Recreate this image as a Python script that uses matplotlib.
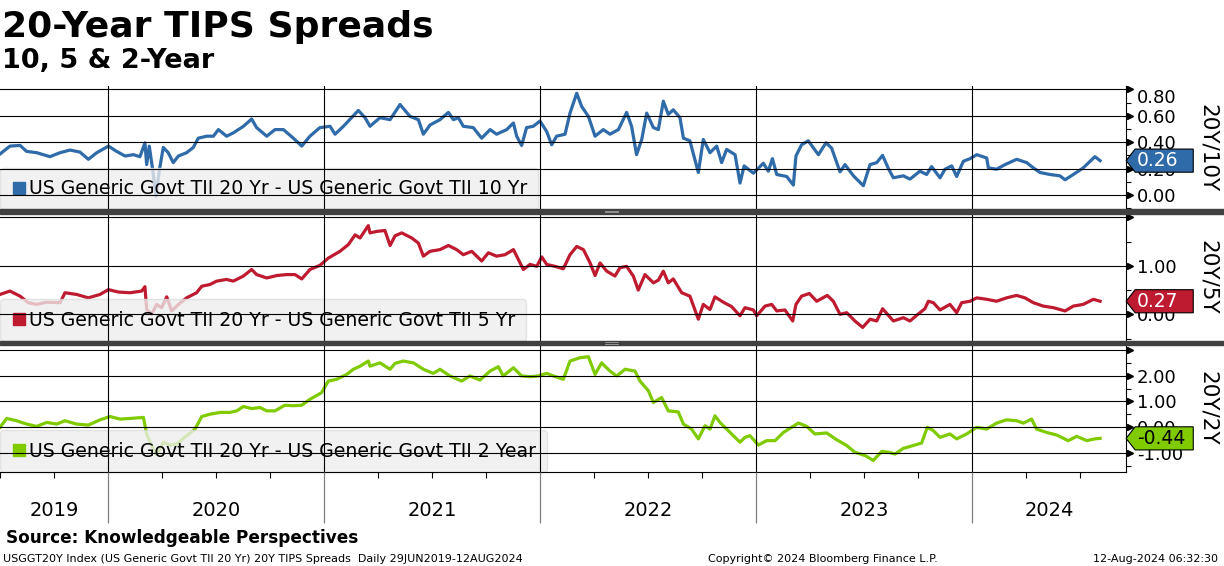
import numpy as np
import matplotlib
matplotlib.use("Agg")
import matplotlib.pyplot as plt
from matplotlib.path import Path
from matplotlib.lines import Line2D
from matplotlib.patches import Rectangle
from matplotlib.ticker import MultipleLocator
from matplotlib import transforms

plt.rcParams['font.family'] = ['DejaVu Sans']

# ---- data (decimal year, spread in %) ----
yr_10 = [
    2019.500, 2019.546, 2019.593, 2019.623, 2019.670, 2019.731, 2019.778, 2019.824, 2019.870, 2019.909, 2019.948,
    2020.002, 2020.040, 2020.079, 2020.117, 2020.148, 2020.171, 2020.179, 2020.191, 2020.207, 2020.222, 2020.238,
    2020.256, 2020.279, 2020.302, 2020.326, 2020.364, 2020.395, 2020.418, 2020.457, 2020.488, 2020.511, 2020.549,
    2020.580, 2020.627, 2020.665, 2020.688, 2020.735, 2020.773, 2020.812, 2020.858, 2020.897, 2020.935, 2020.981,
    2021.028, 2021.051, 2021.090, 2021.136, 2021.159, 2021.190,
    2021.213, 2021.259, 2021.306, 2021.352, 2021.398, 2021.437, 2021.460, 2021.491, 2021.537, 2021.576, 2021.599,
    2021.622, 2021.645, 2021.691, 2021.730, 2021.769, 2021.799, 2021.846, 2021.877, 2021.892, 2021.915, 2021.938,
    2021.969,
    2022.000, 2022.031, 2022.054, 2022.077, 2022.116, 2022.139, 2022.170, 2022.193, 2022.224, 2022.255, 2022.293,
    2022.324, 2022.363, 2022.401, 2022.424, 2022.447, 2022.471, 2022.494, 2022.525, 2022.548, 2022.571, 2022.594,
    2022.617, 2022.648, 2022.664, 2022.694, 2022.733, 2022.756, 2022.787, 2022.818, 2022.841, 2022.864, 2022.903,
    2022.926, 2022.945, 2022.988,
    2023.034, 2023.057, 2023.076, 2023.096, 2023.142, 2023.173, 2023.185, 2023.211, 2023.242, 2023.289, 2023.324,
    2023.350, 2023.389, 2023.412, 2023.451, 2023.497, 2023.528, 2023.559, 2023.586, 2023.613, 2023.636, 2023.682,
    2023.713, 2023.759, 2023.790, 2023.813, 2023.852, 2023.875, 2023.906, 2023.929, 2023.960, 2023.991,
    2024.022, 2024.068, 2024.076, 2024.114, 2024.153, 2024.207, 2024.253, 2024.284, 2024.315, 2024.361, 2024.407,
    2024.431, 2024.469, 2024.515, 2024.569, 2024.593,
]
sp_10 = [
    0.31, 0.37, 0.375, 0.33, 0.32, 0.29, 0.32, 0.34, 0.325, 0.27, 0.32,
    0.37, 0.33, 0.295, 0.305, 0.29, 0.395, 0.23, 0.37, 0.19, -0.01, 0.19,
    0.36, 0.32, 0.245, 0.295, 0.32, 0.36, 0.43, 0.445, 0.445, 0.495, 0.445,
    0.47, 0.52, 0.575, 0.51, 0.445, 0.495, 0.495, 0.43, 0.37, 0.445, 0.51,
    0.52, 0.46, 0.52, 0.60, 0.64, 0.585,
    0.52, 0.585, 0.57, 0.685, 0.595, 0.57, 0.46, 0.53, 0.57, 0.625, 0.57,
    0.585, 0.52, 0.51, 0.43, 0.495, 0.46, 0.495, 0.545, 0.445, 0.375, 0.51,
    0.52,
    0.56, 0.48, 0.38, 0.445, 0.46, 0.62, 0.77, 0.67, 0.595, 0.445, 0.495,
    0.46, 0.495, 0.625, 0.52, 0.305, 0.42, 0.62, 0.51, 0.495, 0.71, 0.61,
    0.645, 0.585, 0.43, 0.41, 0.17, 0.42, 0.32, 0.37, 0.245, 0.345, 0.305,
    0.09, 0.22, 0.165,
    0.24, 0.18, 0.275, 0.155, 0.14, 0.075, 0.295, 0.38, 0.41, 0.305, 0.395,
    0.355, 0.175, 0.23, 0.145, 0.07, 0.23, 0.245, 0.30, 0.20, 0.13, 0.145,
    0.12, 0.18, 0.155, 0.215, 0.13, 0.195, 0.22, 0.14, 0.255, 0.275,
    0.305, 0.28, 0.205, 0.195, 0.23, 0.27, 0.245, 0.205, 0.17, 0.155, 0.145,
    0.115, 0.155, 0.205, 0.29, 0.26,
]

yr_5 = [
    2019.500, 2019.546, 2019.593, 2019.631, 2019.670, 2019.716, 2019.778, 2019.801, 2019.855, 2019.909, 2019.963,
    2020.002, 2020.048, 2020.102, 2020.156, 2020.171, 2020.179, 2020.202, 2020.225, 2020.248, 2020.272, 2020.295,
    2020.326, 2020.364, 2020.410, 2020.434, 2020.472, 2020.503, 2020.549, 2020.580, 2020.627, 2020.665, 2020.688,
    2020.735, 2020.781, 2020.827, 2020.866, 2020.897, 2020.935, 2020.981,
    2021.020, 2021.074, 2021.113, 2021.144, 2021.167, 2021.205,
    2021.213, 2021.244, 2021.282, 2021.306, 2021.329, 2021.360, 2021.406, 2021.437, 2021.460, 2021.491, 2021.537,
    2021.576, 2021.614, 2021.645, 2021.684, 2021.730, 2021.761, 2021.799, 2021.838, 2021.877, 2021.900, 2021.923,
    2021.954, 2021.985,
    2022.008, 2022.031, 2022.069, 2022.108, 2022.139, 2022.170, 2022.201, 2022.232, 2022.255, 2022.278, 2022.309,
    2022.347, 2022.370, 2022.401, 2022.432, 2022.455, 2022.486, 2022.525, 2022.548, 2022.571, 2022.594, 2022.617,
    2022.656, 2022.694, 2022.733, 2022.756, 2022.787, 2022.810, 2022.849, 2022.887,
    2022.926, 2022.949, 2022.988,
    2023.003, 2023.042, 2023.073, 2023.096, 2023.134, 2023.170, 2023.185, 2023.211, 2023.247, 2023.281, 2023.330,
    2023.358, 2023.389, 2023.420, 2023.458, 2023.494, 2023.528, 2023.559, 2023.586, 2023.613, 2023.636, 2023.682,
    2023.713, 2023.744, 2023.782, 2023.798, 2023.821, 2023.852, 2023.898, 2023.929, 2023.952, 2023.991,
    2024.022, 2024.068, 2024.114, 2024.160, 2024.207, 2024.245, 2024.284, 2024.330, 2024.377, 2024.431, 2024.469,
    2024.515, 2024.562, 2024.593,
]
sp_5 = [
    0.41, 0.48, 0.375, 0.24, 0.205, 0.25, 0.24, 0.445, 0.41, 0.34, 0.41,
    0.51, 0.46, 0.445, 0.48, 0.57, 0.10, 0.0, 0.205, 0.137, 0.36, 0.07,
    0.205, 0.34, 0.445, 0.58, 0.615, 0.685, 0.72, 0.685, 0.79, 0.925, 0.82,
    0.75, 0.80, 0.82, 0.82, 0.73, 0.925, 1.01,
    1.16, 1.30, 1.44, 1.64, 1.575, 1.83,
    1.68, 1.71, 1.73, 1.42, 1.62, 1.68, 1.575, 1.47, 1.20, 1.30, 1.335,
    1.42, 1.335, 1.23, 1.30, 1.10, 1.27, 1.20, 1.23, 1.335, 1.13, 0.925,
    1.03, 0.99,
    1.185, 1.03, 0.99, 0.94, 1.23, 1.40, 1.335, 1.06, 0.80, 1.06, 0.89,
    0.79, 0.96, 0.99, 0.79, 0.50, 0.82, 0.65, 0.705, 0.89, 0.65, 0.73,
    0.445, 0.375, -0.10, 0.205, 0.10, 0.36, 0.25, 0.16,
    -0.03, 0.137, 0.09,
    -0.03, 0.17, 0.205, 0.07, 0.09, -0.137, 0.205, 0.375, 0.43, 0.27, 0.39,
    0.27, 0.0, 0.034, -0.137, -0.27, -0.10, -0.137, 0.116, -0.02, -0.137, -0.07,
    -0.137, -0.02, 0.116, 0.27, 0.24, 0.09, 0.205, 0.034, 0.24, 0.27,
    0.34, 0.31, 0.27, 0.34, 0.39, 0.34, 0.24, 0.17, 0.137, 0.07, 0.17,
    0.205, 0.31, 0.27,
]

yr_2 = [
    2019.500, 2019.531, 2019.577, 2019.623, 2019.670, 2019.716, 2019.762, 2019.801, 2019.855, 2019.909, 2019.963,
    2020.009, 2020.056, 2020.102, 2020.164, 2020.179, 2020.202, 2020.225, 2020.256, 2020.287, 2020.318, 2020.364,
    2020.403, 2020.434, 2020.472, 2020.519, 2020.565, 2020.596, 2020.627, 2020.665, 2020.704, 2020.735, 2020.773,
    2020.819, 2020.858, 2020.897, 2020.935, 2020.989,
    2021.020, 2021.059, 2021.105, 2021.136, 2021.167, 2021.205,
    2021.213, 2021.259, 2021.306, 2021.329, 2021.367, 2021.414, 2021.460, 2021.506, 2021.537, 2021.583, 2021.637,
    2021.676, 2021.722, 2021.769, 2021.807, 2021.830, 2021.877, 2021.915, 2021.954, 2021.992,
    2022.031, 2022.062, 2022.108, 2022.139, 2022.185, 2022.224, 2022.255, 2022.285, 2022.324, 2022.355, 2022.394,
    2022.440, 2022.463, 2022.502, 2022.525, 2022.563, 2022.594, 2022.640, 2022.664, 2022.702, 2022.733, 2022.764,
    2022.787, 2022.810, 2022.833, 2022.864, 2022.895,
    2022.926, 2022.949, 2022.972,
    2023.011, 2023.049, 2023.088, 2023.127, 2023.165, 2023.196, 2023.235, 2023.273, 2023.327, 2023.373, 2023.420,
    2023.458, 2023.505, 2023.543, 2023.582, 2023.613, 2023.644, 2023.682, 2023.728, 2023.767, 2023.793, 2023.821,
    2023.852, 2023.898, 2023.929, 2023.975,
    2024.022, 2024.068, 2024.114, 2024.160, 2024.207, 2024.238, 2024.276, 2024.299, 2024.346, 2024.392, 2024.446,
    2024.485, 2024.531, 2024.569, 2024.593,
]
sp_2 = [
    -0.01, 0.335, 0.245, 0.116, 0.026, 0.18, 0.116, 0.245, 0.116, 0.077, 0.28,
    0.41, 0.31, 0.335, 0.375, -0.27, -0.72, -1.08, -0.59, -0.70, -0.66, -0.335,
    -0.08, 0.41, 0.50, 0.57, 0.57, 0.63, 0.80, 0.72, 0.76, 0.63, 0.63,
    0.85, 0.83, 0.85, 1.08, 1.34,
    1.79, 1.86, 2.05, 2.25, 2.37, 2.57,
    2.37, 2.50, 2.25, 2.48, 2.57, 2.50, 2.25, 2.09, 2.25, 1.99, 1.79,
    1.99, 1.83, 2.18, 2.35, 1.99, 2.31, 1.99, 1.96, 1.99,
    2.09, 1.99, 1.86, 2.57, 2.70, 2.74, 2.05, 2.50, 2.18, 1.99, 2.25,
    2.18, 1.79, 1.41, 0.955, 1.15, 0.63, 0.59, 0.116, -0.08, -0.46, 0.05,
    -0.08, 0.44, 0.18, -0.08, -0.335,
    -0.59, -0.40, -0.335,
    -0.70, -0.53, -0.53, -0.21, -0.01, 0.155, 0.026, -0.27, -0.23, -0.49, -0.72,
    -0.98, -1.11, -1.30, -0.95, -0.98, -1.05, -0.83, -0.72, -0.62, -0.01, -0.14,
    -0.40, -0.27, -0.46, -0.27,
    -0.01, -0.08, 0.155, 0.28, 0.245, 0.155, 0.31, -0.08, -0.21, -0.31, -0.53,
    -0.36, -0.53, -0.46, -0.44,
]

series = [(yr_10, sp_10), (yr_5, sp_5), (yr_2, sp_2)]
legend_labels = [
    "US Generic Govt TII 20 Yr - US Generic Govt TII 10 Yr",
    "US Generic Govt TII 20 Yr - US Generic Govt TII 5 Yr",
    "US Generic Govt TII 20 Yr - US Generic Govt TII 2 Year",
]
side_labels = ["20Y/10Y", "20Y/5Y", "20Y/2Y"]
year_ticks = [2020, 2021, 2022, 2023, 2024]
year_labels = ["2019", "2020", "2021", "2022", "2023", "2024"]

# ---- styling ----
colors = ["#2E6BA8", "#BE1A30", "#7FCB00"]
tag_text = ["white", "white", "black"]
ylims = [(-0.11, 0.825), (-0.55, 2.08), (-1.75, 3.195)]
major_ticks = [[0, 0.2, 0.4, 0.6, 0.8], [0, 1, 2], [-1, 0, 1, 2, 3]]
minor_steps = [0.1, 0.5, 0.5]
hide_top_label = [False, True, True]
# axes rectangles in figure fraction (left, bottom, width, height)
W = 1126 / 1224
rects = [(0, 0.62986, W, 0.21820), (0, 0.39753, W, 0.22527), (0, 0.16608, W, 0.22438)]
xlim = (2019.5, 2024.713)


def tag_box(x0, y0, width, height, mutation_size):
    # Bloomberg style last-value tag: a box with a pointed left side
    pady = 0.11 * mutation_size
    left = x0 - 0.1 * mutation_size
    right = left + 3.1 * mutation_size
    bottom, top = y0 - pady, y0 + height + pady
    tip = left - 0.48 * mutation_size
    mid = (bottom + top) / 2
    return Path([(tip, mid), (left, bottom), (right, bottom), (right, top),
                 (left, top), (tip, mid)], closed=True)


fig = plt.figure(figsize=(12.24, 5.66), dpi=100)
fig.patch.set_facecolor("white")

axes = []
for i, (xs, ys) in enumerate(series):
    ax = fig.add_axes(rects[i])
    axes.append(ax)
    ax.plot(xs, ys, color=colors[i], lw=2.3, zorder=1.5, solid_joinstyle="round")
    ax.set_xlim(*xlim)
    ax.set_ylim(*ylims[i])
    ax.set_axisbelow(False)

    # y axis on the right
    ax.yaxis.tick_right()
    ax.set_yticks(major_ticks[i])
    labels = [f"{v:.2f}" for v in major_ticks[i]]
    if hide_top_label[i]:
        labels[-1] = ""
    ax.set_yticklabels(labels)
    ax.yaxis.set_minor_locator(MultipleLocator(minor_steps[i]))
    ax.tick_params(axis="y", which="major", length=0, pad=8, labelsize=13)
    ax.tick_params(axis="y", which="minor", length=3.6, width=0.8, direction="out", color="black")
    if i == 0:
        ax.get_yticklabels()[-1].set_va("top")

    # little arrow heads where the grid meets the axis
    tri_tf = transforms.offset_copy(ax.get_yaxis_transform(), fig=fig, x=3.5, y=0, units="dots")
    ax.plot([1.0] * len(major_ticks[i]), major_ticks[i], ls="none", marker=">", ms=5,
            color="black", transform=tri_tf, clip_on=False, zorder=3)

    ax.set_xticks(year_ticks)
    ax.xaxis.set_minor_locator(MultipleLocator(0.25))
    ax.grid(True, which="major", color="black", lw=0.8)

    for s in ["top", "left"]:
        ax.spines[s].set_visible(False)
    ax.spines["right"].set_linewidth(0.8)
    if i < 2:
        ax.spines["bottom"].set_visible(False)
        ax.tick_params(axis="x", which="both", length=0, labelbottom=False)
    else:
        ax.spines["bottom"].set_linewidth(0.8)
        ax.tick_params(axis="x", which="major", length=36.7, width=0.9, color="#808080",
                       direction="out", labelbottom=False)
        ax.tick_params(axis="x", which="minor", length=4.3, width=0.8, color="black", direction="out")

    # legend box
    handle = Line2D([], [], marker="s", ls="none", color=colors[i], markersize=8.6)
    leg = ax.legend([handle], [legend_labels[i]], loc="lower left", bbox_to_anchor=(0, 0),
                    borderaxespad=0, frameon=True, fancybox=True, framealpha=0.78,
                    facecolor="#EEEEEE", edgecolor="#DDDDDD", fontsize=13.6, borderpad=0.6,
                    handlelength=0.77, handletextpad=0.15)
    leg.set_zorder(2)

    # last value tag
    last = ys[-1]
    ax.annotate(f"{last:.2f}", xy=(1, last), xycoords=("axes fraction", "data"),
                xytext=(11, 0), textcoords="offset pixels", ha="left", va="center",
                fontsize=13.5, color=tag_text[i], annotation_clip=False, zorder=4,
                bbox=dict(boxstyle=tag_box, fc=colors[i], ec="black", lw=0.8))

    ax.text(1.0726, 0.5, side_labels[i], transform=ax.transAxes, rotation=-90,
            ha="center", va="center", fontsize=15.5)

# year labels centred in each visible year
edges = [xlim[0]] + year_ticks + [xlim[1]]
for lab, a, b in zip(year_labels, edges[:-1], edges[1:]):
    axes[2].text((a + b) / 2, -0.307, lab, transform=axes[2].get_xaxis_transform(),
                 ha="center", va="center", fontsize=14)

# dark separators between the panels
for top_px in (209.5, 341):
    fig.add_artist(Rectangle((0, 1 - (top_px + 4) / 566), 1, 4 / 566,
                             transform=fig.transFigure, color="#404040", zorder=5))
    for dy in (1.3, 2.7):
        y = 1 - (top_px + dy) / 566
        fig.add_artist(Line2D([605 / 1224, 618 / 1224], [y, y], transform=fig.transFigure,
                              color="#A0A0A0", lw=0.6, zorder=6))

# titles and footer
fig.text(2 / 1224, 1 - 36.7 / 566, "20-Year TIPS Spreads", fontsize=26, weight="bold", va="baseline")
fig.text(2 / 1224, 1 - 68 / 566, "10, 5 & 2-Year", fontsize=19.5, weight="bold", va="baseline")
fig.text(6 / 1224, 1 - 542.7 / 566, "Source: Knowledgeable Perspectives", fontsize=12.2,
         weight="bold", va="baseline")
fig.text(3 / 1224, 1 - 561.7 / 566,
         "USGGT20Y Index (US Generic Govt TII 20 Yr) 20Y TIPS Spreads  Daily 29JUN2019-12AUG2024",
         fontsize=8, va="baseline")
fig.text(823 / 1224, 1 - 561.7 / 566, "Copyright\u00a9 2024 Bloomberg Finance L.P.",
         fontsize=8, va="baseline", ha="center")
fig.text(1218 / 1224, 1 - 561.7 / 566, "12-Aug-2024 06:32:30", fontsize=8, va="baseline", ha="right")

fig.savefig("out.png", dpi=100, facecolor="white")
